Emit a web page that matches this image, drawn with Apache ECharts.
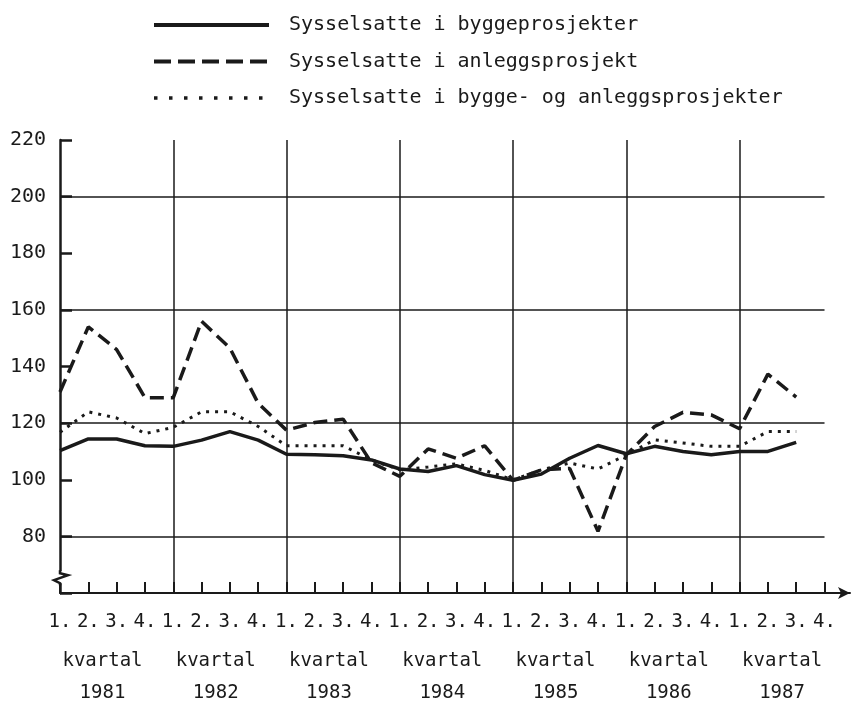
<!DOCTYPE html>
<html>
<head>
<meta charset="utf-8">
<title>Sysselsatte</title>
<script src="https://cdn.jsdelivr.net/npm/echarts@6/dist/echarts.min.js"></script>
<style>
  html, body { margin: 0; padding: 0; background: #fff; }
  #chart { width: 852px; height: 705px; }
</style>
</head>
<body>
<div id="chart"></div>
<script>
// kvartal 1981.1 - 1987.3
var years = ['1981', '1982', '1983', '1984', '1985', '1986', '1987'];
var quarterLabels = ['1.', '2.', '3.', '4.'];
var seriesNames = [
    'Sysselsatte i byggeprosjekter',
    'Sysselsatte i anleggsprosjekt',
    'Sysselsatte i bygge- og anleggsprosjekter'
];
var bygge = [
    110.3, 114.4, 114.4, 112,
    111.8, 114, 117, 114,
    109, 108.8, 108.5, 107,
    103.8, 102.9, 105, 101.8,
    99.8, 102, 107.6, 112.1,
    109.2, 111.8, 110, 108.8,
    110, 110, 113.2
];
var anlegg = [
    131, 154, 146, 129,
    129, 156, 146.5, 127,
    117.5, 120.2, 121.4, 106,
    101.2, 110.9, 107.6, 112,
    99.8, 103.5, 104, 81.8,
    108.8, 118.8, 123.8, 122.9,
    118, 137.3, 129.2
];
var begge = [
    116.8, 124, 121.8, 116.3,
    118.5, 124, 124, 118.8,
    112, 112, 112, 107,
    103.5, 104.5, 105.6, 103.3,
    100, 103.5, 105.9, 103.8,
    108.8, 114.1, 113, 111.8,
    111.8, 117, 117
];
var gridValues = [80, 120, 160, 200];

var ink = '#1a1a1a';
var font = 'DejaVu Sans Mono';
var lastQ = years.length * 4 - 1;

var quarterTicks = [];
for (var i = 0; i <= lastQ; i++) quarterTicks.push(i);
var yearStarts = years.map(function (y, i) { return i * 4; });
var yearCenters = years.map(function (y, i) { return i * 4 + 1.5; });

function toPoints(arr) {
    return arr.map(function (v, i) { return [i, v]; });
}

var gridLines = gridValues.map(function (v) {
    return [{coord: [0, v]}, {coord: [lastQ, v]}];
}).concat(yearStarts.slice(1).map(function (x) {
    return [{coord: [x, 60]}, {coord: [x, 220]}];
}));

var chart = echarts.init(document.getElementById('chart'));

var option = {
    backgroundColor: '#fff',
    animation: false,
    legend: {
        orient: 'vertical',
        left: 147,
        top: 10,
        itemWidth: 115,
        itemHeight: 14,
        itemGap: 16.5,
        selectedMode: false,
        // hide the marker dot, keep only the line
        itemStyle: {opacity: 0, borderWidth: 0},
        data: [
            {name: seriesNames[0], lineStyle: {width: 4, type: 'solid'}},
            {name: seriesNames[1], lineStyle: {width: 4, type: [17, 7]}},
            {name: seriesNames[2], lineStyle: {width: 3.5, type: [3.5, 11.5]}}
        ],
        textStyle: {
            fontFamily: font,
            fontSize: 20,
            color: ink,
            padding: [0, 0, 0, 15]
        }
    },
    grid: {
        left: 60,
        right: 2,
        top: 140,
        bottom: 112,
        outerBoundsMode: 'none'
    },
    xAxis: [{
        type: 'value',
        min: 0,
        max: 27.9,
        axisLine: {
            onZero: false,
            symbol: ['none', 'arrow'],
            symbolSize: [9, 12],
            lineStyle: {color: ink, width: 2}
        },
        axisTick: {
            customValues: quarterTicks,
            inside: true,
            length: 11,
            lineStyle: {color: ink, width: 2}
        },
        axisLabel: {
            customValues: quarterTicks,
            formatter: function (v) { return quarterLabels[Math.round(v) % 4]; },
            margin: 20,
            fontFamily: font,
            fontSize: 19,
            color: ink
        },
        splitLine: {show: false}
    }, {
        type: 'value',
        min: 0,
        max: 27.9,
        position: 'bottom',
        axisLine: {show: false},
        axisTick: {show: false},
        axisLabel: {
            customValues: yearCenters,
            formatter: function (v) { return 'kvartal\n' + years[Math.round((v - 1.5) / 4)]; },
            margin: 52,
            lineHeight: 32,
            fontFamily: font,
            fontSize: 19,
            color: ink
        },
        splitLine: {show: false}
    }],
    yAxis: {
        type: 'value',
        min: 60,
        max: 220,
        interval: 20,
        axisLine: {show: true, lineStyle: {color: ink, width: 2.5}},
        axisTick: {inside: true, length: 12, lineStyle: {color: ink, width: 2.5}},
        axisLabel: {
            formatter: function (v) { return v === 60 ? '' : String(v); },
            margin: 14,
            fontFamily: font,
            fontSize: 20,
            color: ink
        },
        splitLine: {show: false}
    },
    series: [{
        type: 'line',
        data: [],
        silent: true,
        z: 1,
        markLine: {
            silent: true,
            symbol: ['none', 'none'],
            label: {show: false},
            lineStyle: {color: ink, width: 1.5, type: 'solid'},
            data: gridLines
        }
    }, {
        name: seriesNames[0],
        type: 'line',
        z: 3,
        data: toPoints(bygge),
        symbol: 'none',
        lineStyle: {color: ink, width: 3.5, type: 'solid'},
        itemStyle: {color: ink}
    }, {
        name: seriesNames[1],
        type: 'line',
        z: 3,
        data: toPoints(anlegg),
        symbol: 'none',
        lineStyle: {color: ink, width: 3.5, type: [14, 7]},
        itemStyle: {color: ink}
    }, {
        name: seriesNames[2],
        type: 'line',
        z: 3,
        data: toPoints(begge),
        symbol: 'none',
        lineStyle: {color: ink, width: 3, type: [3, 6]},
        itemStyle: {color: ink}
    }]
};

chart.setOption(option);

// axis break mark on the y axis
var b = chart.convertToPixel({gridIndex: 0}, [0, 67]);
chart.setOption({
    graphic: [{
        type: 'rect',
        shape: {x: b[0] - 3, y: b[1] - 2, width: 6, height: 12},
        style: {fill: '#fff'},
        z: 100
    }, {
        type: 'polyline',
        shape: {points: [
            [b[0], b[1] - 3], [b[0], b[1]], [b[0] + 8, b[1] + 2],
            [b[0] - 6, b[1] + 7], [b[0], b[1] + 10], [b[0], b[1] + 12]
        ]},
        style: {stroke: ink, lineWidth: 2.5, fill: null},
        z: 101
    }]
});
</script>
</body>
</html>
